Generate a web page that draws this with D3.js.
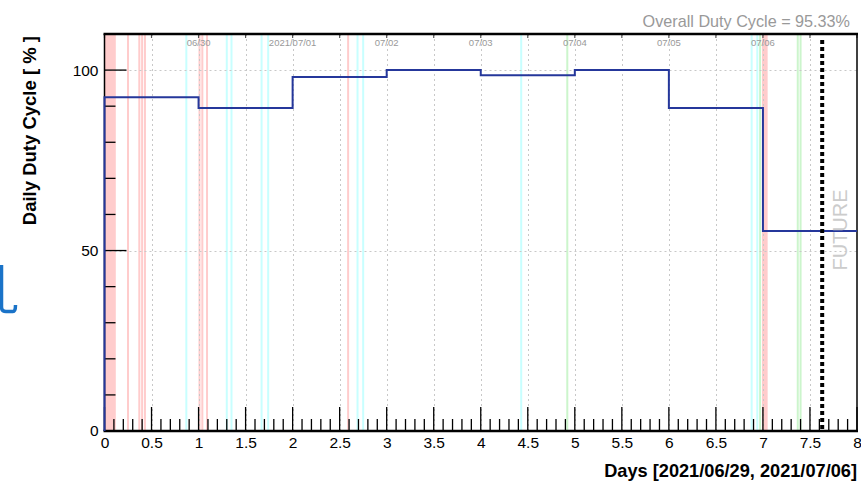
<!DOCTYPE html>
<html>
<head>
<meta charset="utf-8">
<script src="https://cdn.jsdelivr.net/npm/d3@7"></script>
<style>
  html, body { margin: 0; padding: 0; background: #fff; }
  svg { display: block; font-family: "Liberation Sans", Arial, Helvetica, sans-serif; }
</style>
</head>
<body>
<svg id="chart" width="861" height="483"></svg>
<script>
// Daily duty cycle per day (day index = bin start)
const dayStarts = [0, 1, 2, 3, 4, 5, 6, 7];
const dutyValues = [92.5, 89.5, 98.1, 100, 98.6, 100, 89.5, 55.4];
const binEnd = 8;

// Calendar labels along the top axis
const dateTickPos = [1, 2, 3, 4, 5, 6, 7];
const dateTickLabels = ["06/30", "2021/07/01", "07/02", "07/03", "07/04", "07/05", "07/06"];

// Downtime / event markers (in days)
const redBands = [[0, 0.12], [6.99, 7.05]];
const redLines = [0.25, 0.37, 0.40, 0.43, 1.01, 1.04, 1.09, 2.59];
const cyanLines = [0.87, 1.30, 1.35, 1.67, 1.74, 2.69, 2.75, 4.43, 6.88, 6.94];
const greenLines = [4.92, 6.97, 7.37, 7.40];

const nowDay = 7.63;
const overallText = "Overall Duty Cycle = 95.33%";

const xMajor = [0, 0.5, 1, 1.5, 2, 2.5, 3, 3.5, 4, 4.5, 5, 5.5, 6, 6.5, 7, 7.5, 8];
const yMajor = [0, 50, 100];

(function draw() {
const svg = d3.select("#chart");
const pL = 104.5, pR = 857, pT = 34, pB = 431;

const x = d3.scaleLinear().domain([0, 8]).range([pL, pR]);
const y = d3.scaleLinear().domain([0, 110]).range([pB, pT]);

// Marker bands and lines
const marks = svg.append("g");
redBands.forEach(([a, b]) => {
  marks.append("rect")
    .attr("x", x(a)).attr("y", pT)
    .attr("width", x(b) - x(a)).attr("height", pB - pT)
    .attr("fill", "#ffcccc");
});
function markLines(vals, color) {
  marks.selectAll(null).data(vals).enter().append("line")
    .attr("x1", d => x(d)).attr("x2", d => x(d))
    .attr("y1", pT).attr("y2", pB)
    .attr("stroke", color).attr("stroke-width", 2);
}
markLines(redLines, "#ffcccc");
markLines(cyanLines, "#c8ffff");
markLines(greenLines, "#ccf5cc");

// Grid
const grid = svg.append("g").attr("stroke", "#c8c8c8").attr("stroke-width", 1).attr("stroke-dasharray", "2,3");
grid.selectAll(null).data(xMajor.slice(1, -1)).enter().append("line")
  .attr("x1", d => Math.round(x(d)) + 0.5).attr("x2", d => Math.round(x(d)) + 0.5)
  .attr("y1", pT).attr("y2", pB);
grid.selectAll(null).data([50, 100]).enter().append("line")
  .attr("x1", pL).attr("x2", pR)
  .attr("y1", d => Math.round(y(d)) + 0.5).attr("y2", d => Math.round(y(d)) + 0.5);

// Top date labels
svg.append("g").selectAll(null).data(dateTickPos).enter().append("text")
  .attr("x", d => x(d)).attr("y", 46)
  .attr("text-anchor", "middle")
  .attr("font-size", 9.5).attr("fill", "#999")
  .text((d, i) => dateTickLabels[i]);

// X axis with inward ticks
const xMinor = d3.range(0, 80.5).map(i => i / 10);
const xAxis = d3.axisBottom(x).tickValues(xMajor).tickSize(0).tickPadding(6)
  .tickFormat(d3.format("~g"));
const gx = svg.append("g").attr("transform", `translate(0,${pB})`).call(xAxis);
gx.select(".domain").remove();
gx.selectAll("text").attr("font-size", 15.5).attr("fill", "#000")
  .attr("font-family", "Liberation Sans, Arial, sans-serif");
svg.append("g").selectAll(null).data(xMinor).enter().append("line")
  .attr("x1", d => x(d)).attr("x2", d => x(d))
  .attr("y1", pB)
  .attr("y2", (d, i) => pB - (i % 5 === 0 ? 24 : 12))
  .attr("stroke", "#000").attr("stroke-width", 1.3);

// Top axis short ticks
svg.append("g").selectAll(null).data(xMajor).enter().append("line")
  .attr("x1", d => x(d)).attr("x2", d => x(d))
  .attr("y1", pT).attr("y2", pT + 4)
  .attr("stroke", "#555").attr("stroke-width", 1.2);

// Y axis with inward ticks
const yAxis = d3.axisLeft(y).tickValues(yMajor).tickSize(0).tickPadding(6);
const gy = svg.append("g").attr("transform", `translate(${pL},0)`).call(yAxis);
gy.select(".domain").remove();
gy.selectAll("text").attr("font-size", 15.5).attr("fill", "#000")
  .attr("font-family", "Liberation Sans, Arial, sans-serif");
const yMinor = d3.range(0, 11).map(i => i * 10);
svg.append("g").selectAll(null).data(yMinor).enter().append("line")
  .attr("x1", pL)
  .attr("x2", d => pL + (d % 50 === 0 ? 22 : 11))
  .attr("y1", d => y(d)).attr("y2", d => y(d))
  .attr("stroke", "#000").attr("stroke-width", 1.3);

// Frame
svg.append("line").attr("x1", pL - 1).attr("x2", pR + 1).attr("y1", pT).attr("y2", pT)
  .attr("stroke", "#000").attr("stroke-width", 2.5);
svg.append("line").attr("x1", pL - 1).attr("x2", pR + 1).attr("y1", pB).attr("y2", pB)
  .attr("stroke", "#000").attr("stroke-width", 2.5);
svg.append("line").attr("x1", pR).attr("x2", pR).attr("y1", pT).attr("y2", pB)
  .attr("stroke", "#000").attr("stroke-width", 1.5);
svg.append("line").attr("x1", pL).attr("x2", pL).attr("y1", pT).attr("y2", pB)
  .attr("stroke", "#000").attr("stroke-width", 1.5);

// Step histogram of daily duty cycle
const stepPts = [[0, 0]];
dayStarts.forEach((d, i) => {
  stepPts.push([d, dutyValues[i]]);
  stepPts.push([i + 1 < dayStarts.length ? dayStarts[i + 1] : binEnd, dutyValues[i]]);
});
const line = d3.line().x(p => x(p[0])).y(p => y(p[1]));
svg.append("path").datum(stepPts)
  .attr("d", line).attr("fill", "none")
  .attr("stroke", "#25379b").attr("stroke-width", 2);

// "Now" marker
svg.append("line")
  .attr("x1", x(nowDay)).attr("x2", x(nowDay))
  .attr("y1", pT + 6).attr("y2", pB)
  .attr("stroke", "#000").attr("stroke-width", 4).attr("stroke-dasharray", "4,3");

svg.append("text")
  .attr("transform", `translate(${x(nowDay) + 25},230) rotate(-90)`)
  .attr("text-anchor", "middle").attr("font-size", 20)
  .attr("fill", "#cccccc").text("FUTURE");

// Titles
svg.append("text")
  .attr("x", 850).attr("y", 27).attr("text-anchor", "end")
  .attr("font-size", 16.2).attr("fill", "#999").text(overallText);

svg.append("text")
  .attr("transform", `translate(36,36) rotate(-90)`)
  .attr("text-anchor", "end").attr("font-size", 18.5).attr("font-weight", "bold")
  .attr("fill", "#000").text("Daily Duty Cycle [ % ]");

svg.append("text")
  .attr("x", 857).attr("y", 477).attr("text-anchor", "end")
  .attr("font-size", 18.2).attr("font-weight", "bold")
  .attr("fill", "#000").text("Days [2021/06/29, 2021/07/06]");

// Bracket fragment at the left edge
svg.append("path")
  .attr("d", "M1.5,265 L1.5,307 Q1.5,311.5 6,311.5 L13,311.5 Q15.5,311.5 15.5,305")
  .attr("fill", "none").attr("stroke", "#1a73c8").attr("stroke-width", 3.5);
})();
</script>
</body>
</html>
